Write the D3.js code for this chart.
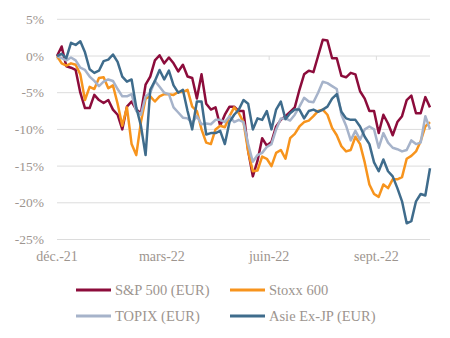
<!DOCTYPE html>
<html>
<head>
<meta charset="UTF-8">
<title>Indices</title>
<script src="https://d3js.org/d3.v7.min.js"></script>
<style>
 body { margin: 0; background: #fff; }
 text { font-family: "Liberation Serif", "DejaVu Serif", serif; fill: #9d958f; }
</style>
</head>
<body>
<script>
// one point every 4 days from 1 Dec 2021
var startDate = new Date(2021, 11, 1);
var stepDays = 4;

var sp500 = [0, 1.3, -1.4, -1.6, -1.9, -5, -7.1, -7.1, -5.3, -6, -6.4, -6, -7.3, -8, -10, -6.9, -6.2, -7.3, -7.8, -3.9,
  -2.8, -0.6, 0.1, -1, -0.2, -1, -2.1, -1.2, -2.8, -3, -5.8, -2.5, -6.5, -7.3, -7, -9.5, -8, -6.9, -6.9, -7.5,
  -7.5, -12.9, -16.4, -14.3, -11.2, -12.2, -11.7, -9.6, -8.7, -8.2, -7.6, -7, -4.6, -2.5, -2, -2.2, 0, 2.2, 2.1, -0.3,
  -0.3, -2.7, -2.9, -2.3, -2.5, -4.8, -5.8, -7.5, -7.5, -10.5, -8, -9.2, -10.8, -9, -8.2, -6, -5.4, -7.8, -7.8, -5.6, -7];
var stoxx600 = [0, -1, -1.3, -1, -1.2, -2.5, -6, -4.2, -4.5, -3, -2.9, -4.4, -4, -6.5, -9.5, -7, -12, -13.5, -9, -5.8,
  -5.5, -6.2, -5.5, -5.2, -5.2, -5.3, -4.9, -4.9, -4.6, -6.9, -7.5, -10, -11.8, -12, -10, -9.5, -9.7, -8.2, -7, -7.8,
  -9, -13, -15.7, -15.6, -13.7, -14, -15, -13.2, -12.8, -14, -11.2, -10.6, -9.6, -9, -8.8, -8.2, -7.5, -7.3, -8, -9.8,
  -10.8, -12.3, -13, -12.8, -11, -12, -14.5, -17.5, -18.8, -19.2, -17.5, -18, -16.8, -16.8, -16.5, -14, -13.6, -13, -11.6, -9.6, -9];
var topix = [0, -0.3, -0.6, -0.2, -0.6, -1.6, -1.9, -2.8, -3.4, -4.1, -3.5, -3.2, -3.4, -4.5, -5.5, -5.5, -5.2, -7.5, -8, -5.5,
  -5, -3.4, -4.2, -5, -5.2, -7, -7.7, -8.4, -8.5, -9.1, -8.2, -9.3, -9.2, -9.3, -8.7, -8.7, -9, -8.2, -9, -8.7,
  -9, -12, -14.4, -13.5, -13.2, -12.4, -12, -10, -8.5, -8.5, -8.8, -8, -6.9, -5.7, -6.2, -6.3, -5, -3.5, -3.7, -4.1,
  -4.5, -8, -9.5, -11.5, -10.2, -11.4, -10, -9.6, -10, -12.5, -10.5, -11.8, -12.5, -12.7, -13, -12.8, -11.5, -12, -11.8, -8.2, -10];
var asieExJp = [0, 0.3, -0.3, 1.8, 1.5, 2, 0.5, -1.8, -2.3, -2, -0.7, -0.5, 0.2, -0.8, -2.8, -3.5, -3.2, -7, -9.5, -13.5,
  -4.6, -3.4, -1.9, -3.2, -2, -4, -5, -4.6, -7.5, -10, -6.2, -6.2, -10.7, -10.5, -10.5, -10.2, -12, -9, -8, -7.3,
  -6, -6.5, -10, -8.5, -8.7, -7.5, -10, -7.3, -6.2, -8.6, -7.8, -7.3, -7.3, -8.5, -7.5, -7.3, -7.6, -7.3, -6.9, -5.8,
  -5.2, -7.6, -8.5, -8.7, -8.7, -9.6, -11, -12, -14.5, -15.7, -14.1, -15.7, -16.4, -18, -19.8, -22.8, -22.5, -19.8, -18.8, -19, -15.3];

var seriesNames = ["S&P 500 (EUR)", "Stoxx 600", "TOPIX (EUR)", "Asie Ex-JP (EUR)"];
var seriesColors = ["#8c0c3b", "#f7941d", "#a6b3ca", "#3f6c8c"];
var yTicks = [5, 0, -5, -10, -15, -20, -25];
var xTickDates = [new Date(2021, 11, 1), new Date(2022, 2, 1), new Date(2022, 5, 1), new Date(2022, 8, 1)];
var xTickLabels = ["déc.-21", "mars-22", "juin-22", "sept.-22"];

var allSeries = [sp500, stoxx600, topix, asieExJp];
var dates = sp500.map(function (d, i) { return d3.timeDay.offset(startDate, i * stepDays); });

var width = 450, height = 338;
var svg = d3.select("body").append("svg")
  .attr("width", width)
  .attr("height", height);

var x = d3.scaleTime()
  .domain([dates[0], dates[dates.length - 1]])
  .range([57, 430]);
var y = d3.scaleLinear()
  .domain([-25, 5])
  .range([239.5, 19.3]);

// horizontal grid
svg.append("g").selectAll("line")
  .data(yTicks)
  .enter().append("line")
  .attr("x1", 57).attr("x2", 430)
  .attr("y1", function (d) { return y(d); })
  .attr("y2", function (d) { return y(d); })
  .attr("stroke", "#dcdcdc")
  .attr("stroke-width", 1);

// y labels
svg.append("g").selectAll("text")
  .data(yTicks)
  .enter().append("text")
  .attr("x", 44)
  .attr("y", function (d) { return y(d) + 4.5; })
  .attr("text-anchor", "end")
  .style("font-size", "13.5px")
  .text(function (d) { return d + "%"; });

// small ticks on the zero line
svg.append("g").selectAll("line")
  .data(xTickDates)
  .enter().append("line")
  .attr("x1", function (d) { return x(d); })
  .attr("x2", function (d) { return x(d); })
  .attr("y1", y(0))
  .attr("y2", y(0) + 4)
  .attr("stroke", "#dcdcdc");

// x labels
svg.append("g").selectAll("text")
  .data(xTickDates)
  .enter().append("text")
  .attr("x", function (d) { return x(d); })
  .attr("y", 261)
  .attr("text-anchor", "middle")
  .style("font-size", "14px")
  .text(function (d, i) { return xTickLabels[i]; });

var line = d3.line()
  .x(function (d, i) { return x(dates[i]); })
  .y(function (d) { return y(d); });

svg.append("g").selectAll("path")
  .data(allSeries)
  .enter().append("path")
  .attr("d", line)
  .attr("fill", "none")
  .attr("stroke", function (d, i) { return seriesColors[i]; })
  .attr("stroke-width", 2.5)
  .attr("stroke-linejoin", "round");

// legend
var legend = svg.append("g").selectAll("g")
  .data(seriesNames)
  .enter().append("g")
  .attr("transform", function (d, i) {
    return "translate(" + (i % 2 == 0 ? 76 : 230) + "," + (i < 2 ? 290 : 316) + ")";
  });
legend.append("line")
  .attr("x1", 0).attr("x2", 35)
  .attr("stroke", function (d, i) { return seriesColors[i]; })
  .attr("stroke-width", 3);
legend.append("text")
  .attr("x", 39)
  .attr("y", 5)
  .style("font-size", "14.5px")
  .text(function (d) { return d; });
</script>
</body>
</html>
